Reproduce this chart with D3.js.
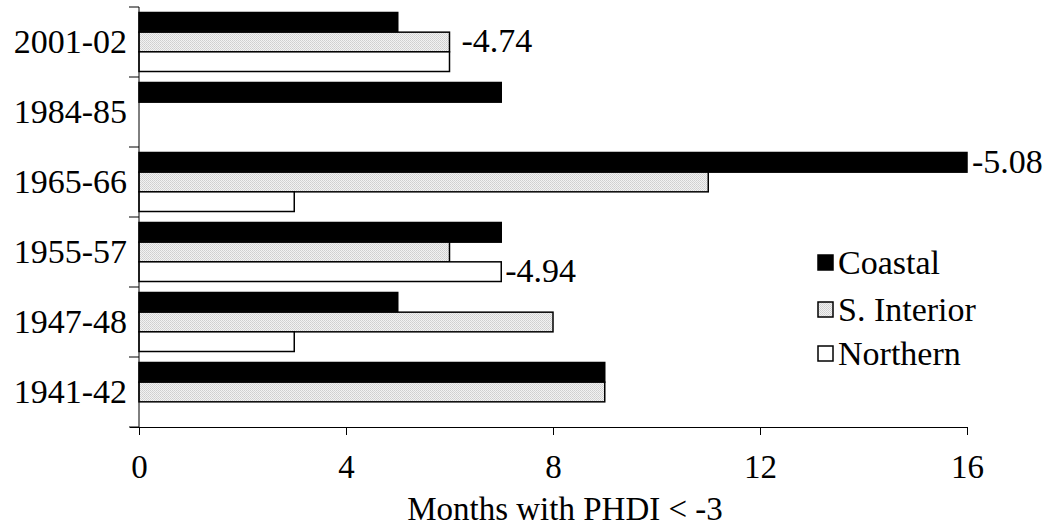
<!DOCTYPE html>
<html><head><meta charset="utf-8">
<script src="https://cdn.jsdelivr.net/npm/d3@7"></script>
<style>body{margin:0;background:#fff}svg{display:block}</style>
</head><body><svg id="c" width="1047" height="527"></svg>
<script>
const categories = ["2001-02","1984-85","1965-66","1955-57","1947-48","1941-42"];
const seriesNames = ["Coastal","S. Interior","Northern"];
const coastal = [5,7,16,7,5,9];
const interior = [6,0,11,6,8,9];
const northern = [6,0,3,7,3,0];
const xTicks = [0,4,8,12,16];
const xTitle = "Months with PHDI < -3";
const annotations = [
  {cat:"2001-02", series:"S. Interior", text:"-4.74", dx:12},
  {cat:"1965-66", series:"Coastal", text:"-5.08", dx:5},
  {cat:"1955-57", series:"Northern", text:"-4.94", dx:4}
];
const values = {"Coastal":coastal,"S. Interior":interior,"Northern":northern};

const FF = "'Liberation Serif', 'Times New Roman', Times, 'DejaVu Serif', serif";
const FS = 34;
const svg = d3.select("#c");
const defs = svg.append("defs");
const pat = defs.append("pattern").attr("id","dots").attr("patternUnits","userSpaceOnUse").attr("width",2).attr("height",2);
pat.append("rect").attr("width",2).attr("height",2).attr("fill","#f2f2f2");
pat.append("rect").attr("width",1).attr("height",1).attr("fill","#cfcfcf");
pat.append("rect").attr("x",1).attr("y",1).attr("width",1).attr("height",1).attr("fill","#d6d6d6");

const fills = {"Coastal":"#000","S. Interior":"url(#dots)","Northern":"#fff"};

const x = d3.scaleLinear().domain([0,16]).range([139,967]);
const y = d3.scaleBand().domain(categories).range([7,427]).paddingInner(0.157).paddingOuter(0.0785);
const ys = d3.scaleBand().domain(seriesNames).range([0,y.bandwidth()]);

function txt(sel, fs){ return sel.style("font-family",FF).style("font-size",(fs||FS)+"px").attr("fill","#000"); }

const g = svg.append("g");
categories.forEach((c,i)=>{
  seriesNames.forEach(s=>{
    const v = values[s][i];
    if(!v) return;
    g.append("rect")
      .attr("x",x(0)).attr("y",y(c)+ys(s))
      .attr("width",x(v)-x(0)).attr("height",ys.bandwidth())
      .attr("fill",fills[s]).attr("stroke","#000").attr("stroke-width",1.5);
  });
});

// y axis
svg.append("line").attr("x1",139).attr("x2",139).attr("y1",7).attr("y2",427).attr("stroke","#000").attr("stroke-width",1);
const yTickPos = categories.map(c=>y(c)-y.step()*y.paddingInner()/2).concat([427]);
yTickPos.forEach(p=>{
  svg.append("line").attr("x1",129).attr("x2",139).attr("y1",p).attr("y2",p).attr("stroke","#000").attr("stroke-width",1);
});
categories.forEach(c=>{
  txt(svg.append("text").attr("x",127).attr("y",y(c)+y.bandwidth()/2).attr("dy","0.33em")
    .attr("text-anchor","end")).text(c);
});

// x axis
const xAxis = d3.axisBottom(x).tickValues(xTicks).tickSize(8).tickPadding(20).tickFormat(d3.format("d"));
const xa = svg.append("g").attr("transform","translate(0,427)").call(xAxis);
xa.attr("font-family",null).attr("font-size",null);
xa.select(".domain").attr("stroke","#000").attr("d","M130,0.5H967");
xa.selectAll(".tick line").attr("stroke","#000");
txt(xa.selectAll(".tick text"), 33);

txt(svg.append("text").attr("x",565).attr("y",520).attr("text-anchor","middle"), 33).text(xTitle);

// annotations
annotations.forEach(a=>{
  const i = categories.indexOf(a.cat);
  const v = values[a.series][i];
  txt(svg.append("text").attr("x",x(v)+a.dx).attr("y",y(a.cat)+ys(a.series)+ys.bandwidth()/2).attr("dy","0.3em"))
    .text(a.text);
});

// legend
const legY = [263,310,354];
seriesNames.forEach((s,i)=>{
  svg.append("rect").attr("x",818).attr("y",legY[i]-8).attr("width",15).attr("height",15)
    .attr("fill",fills[s]).attr("stroke","#000").attr("stroke-width",1.5);
  txt(svg.append("text").attr("x",838).attr("y",legY[i]).attr("dy","0.33em")).text(s);
});
</script></body></html>
